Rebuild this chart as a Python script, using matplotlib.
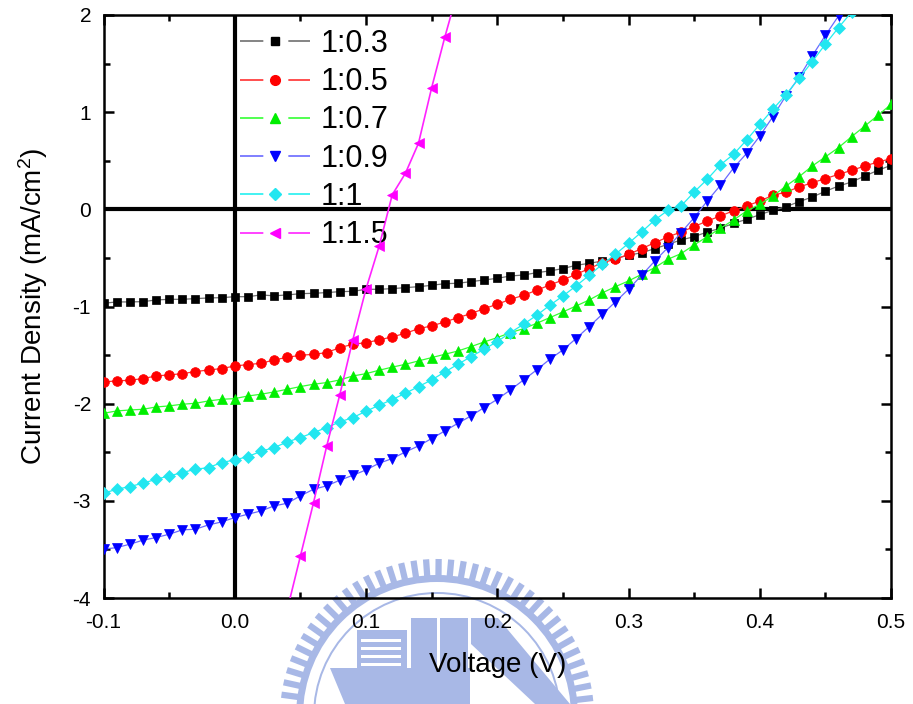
import matplotlib
matplotlib.use('Agg')
import matplotlib.pyplot as plt
from matplotlib.lines import Line2D
from matplotlib.legend_handler import HandlerTuple
from matplotlib.ticker import MultipleLocator, FormatStrFormatter
import matplotlib.patches as mpatches
import numpy as np

# ---- data ----
volt = [round(-0.10 + 0.01 * i, 2) for i in range(61)]

j_03 = [-0.967, -0.953, -0.953, -0.950, -0.933, -0.926, -0.926, -0.919, -0.912, -0.909,
        -0.899, -0.899, -0.881, -0.890, -0.881, -0.868, -0.864, -0.857, -0.847, -0.844,
        -0.823, -0.823, -0.816, -0.806, -0.796, -0.782, -0.765, -0.761, -0.744, -0.727,
        -0.710, -0.686, -0.676, -0.652, -0.634, -0.610, -0.576, -0.556, -0.532, -0.505,
        -0.473, -0.446, -0.405, -0.360, -0.316, -0.281, -0.233, -0.195, -0.144, -0.103,
        -0.055, -0.010, 0.027, 0.079, 0.127, 0.185, 0.240, 0.281, 0.343, 0.401, 0.453]

j_05 = [-1.776, -1.766, -1.759, -1.742, -1.715, -1.704, -1.691, -1.670, -1.653, -1.639,
        -1.612, -1.598, -1.584, -1.550, -1.523, -1.502, -1.492, -1.475, -1.423, -1.389,
        -1.372, -1.344, -1.312, -1.276, -1.228, -1.200, -1.159, -1.115, -1.073, -1.022,
        -0.977, -0.926, -0.885, -0.833, -0.779, -0.727, -0.669, -0.610, -0.549, -0.514,
        -0.463, -0.405, -0.343, -0.285, -0.233, -0.178, -0.120, -0.069, -0.014, 0.034,
        0.086, 0.144, 0.178, 0.230, 0.274, 0.316, 0.360, 0.401, 0.446, 0.487, 0.521]

j_07 = [-2.099, -2.075, -2.065, -2.058, -2.034, -2.023, -2.006, -1.996, -1.972, -1.955,
        -1.948, -1.921, -1.903, -1.879, -1.852, -1.824, -1.800, -1.783, -1.756, -1.715,
        -1.691, -1.656, -1.624, -1.595, -1.560, -1.526, -1.492, -1.458, -1.413, -1.365,
        -1.320, -1.269, -1.228, -1.173, -1.115, -1.056, -0.995, -0.933, -0.860, -0.796,
        -0.737, -0.669, -0.600, -0.514, -0.456, -0.367, -0.281, -0.195, -0.110, -0.017,
        0.051, 0.137, 0.240, 0.336, 0.446, 0.540, 0.635, 0.748, 0.857, 0.967, 1.080]

j_09 = [-3.498, -3.481, -3.447, -3.405, -3.378, -3.344, -3.299, -3.292, -3.248, -3.217,
        -3.172, -3.138, -3.104, -3.052, -3.025, -2.949, -2.881, -2.846, -2.788, -2.737,
        -2.682, -2.613, -2.565, -2.497, -2.435, -2.359, -2.281, -2.202, -2.126, -2.040,
        -1.955, -1.859, -1.756, -1.653, -1.543, -1.447, -1.330, -1.207, -1.080, -0.953,
        -0.823, -0.679, -0.532, -0.394, -0.240, -0.086, 0.086, 0.247, 0.425, 0.576,
        0.754, 0.954, 1.170, 1.360, 1.580, 1.790, 1.990, 2.200, 2.410, 2.620, 2.830]

j_10 = [-2.922, -2.881, -2.853, -2.819, -2.778, -2.744, -2.709, -2.675, -2.658, -2.606,
        -2.579, -2.545, -2.490, -2.452, -2.394, -2.349, -2.298, -2.246, -2.188, -2.143,
        -2.078, -2.016, -1.958, -1.893, -1.824, -1.756, -1.674, -1.595, -1.516, -1.440,
        -1.361, -1.269, -1.183, -1.091, -0.988, -0.892, -0.789, -0.679, -0.566, -0.463,
        -0.350, -0.233, -0.110, -0.010, 0.034, 0.178, 0.309, 0.458, 0.566, 0.713,
        0.874, 1.030, 1.180, 1.350, 1.520, 1.700, 1.870, 2.030, 2.200, 2.370, 2.550]

volt_15 = [0.04, 0.05, 0.06, 0.07, 0.08, 0.09, 0.10, 0.11, 0.12, 0.13, 0.14, 0.15, 0.16, 0.17]
j_15 = [-4.12, -3.57, -3.02, -2.44, -1.91, -1.34, -0.82, -0.38, 0.15, 0.37, 0.68, 1.25, 1.77, 2.25]

labels = ['1:0.3', '1:0.5', '1:0.7', '1:0.9', '1:1', '1:1.5']
marker_cols = ['#000000', '#ff0000', '#00ee00', '#0000ff', '#22e6f0', '#ff00ff']
line_cols = ['#707070', '#ff3030', '#33ff33', '#6a6aff', '#22f0f0', '#ff22ff']
markers = ['s', 'o', '^', 'v', 'D', '<']
msizes = [6, 7, 7.5, 7.5, 6.5, 7.5]

plt.rcParams['font.family'] = ['Liberation Sans', 'DejaVu Sans']
plt.rcParams['axes.unicode_minus'] = False
plt.rcParams['mathtext.default'] = 'regular'

fig = plt.figure(figsize=(9.13, 7.04), dpi=100)
fig.patch.set_facecolor('white')

# faint school logo watermark behind the plot (pixel coords, y measured from bottom)
wm = fig.add_axes([0, 0, 1, 1], zorder=0)
wm.set_xlim(0, 913)
wm.set_ylim(0, 704)
wm.axis('off')
wcol = '#a8b8e6'
cx, cy = 437, -12
for a in np.arange(2, 180, 4.6):
    t = np.deg2rad(a)
    r0, r1 = 140, 157
    wm.plot([cx + r0 * np.cos(t), cx + r1 * np.cos(t)],
            [cy + r0 * np.sin(t), cy + r1 * np.sin(t)], color=wcol, lw=4.5,
            solid_capstyle='butt')
wm.add_patch(mpatches.Wedge((cx, cy), 141, 0, 180, width=7, color=wcol, lw=0))
wm.add_patch(mpatches.Wedge((cx, cy), 124, 0, 180, width=2, color=wcol, lw=0))
wm.add_patch(mpatches.Rectangle((357, 16), 50, 58, color=wcol, lw=0))
for yy in range(22, 70, 8):
    wm.add_patch(mpatches.Rectangle((361, yy), 40, 3, color='white', lw=0))
wm.add_patch(mpatches.Rectangle((411, 16), 26, 70, color=wcol, lw=0))
wm.add_patch(mpatches.Rectangle((440, 16), 28, 70, color=wcol, lw=0))
wm.add_patch(mpatches.Polygon([[471, 86], [498, 86], [570, 0], [535, 0], [471, 60]],
                              closed=True, color=wcol, lw=0))
wm.add_patch(mpatches.Polygon([[330, 36], [470, 36], [470, 0], [345, 0]],
                              closed=True, color=wcol, lw=0))

ax = fig.add_axes([103.5 / 913, 1 - 598 / 704, (891 - 103.5) / 913, (598 - 15) / 704],
                  zorder=1)
ax.patch.set_alpha(0)

ax.axhline(0, color='black', lw=3, zorder=1)
ax.axvline(0, color='black', lw=3, zorder=1)

series = [j_03, j_05, j_07, j_09, j_10]
for i, yv in enumerate(series):
    ax.plot(volt, yv, color=line_cols[i], lw=0.9, marker=markers[i], ms=msizes[i],
            mfc=marker_cols[i], mec=marker_cols[i], mew=0.5, zorder=3 + i)
ax.plot(volt_15, j_15, color=line_cols[5], lw=1.2, marker=markers[5], ms=msizes[5],
        mfc=marker_cols[5], mec=marker_cols[5], mew=0.5, zorder=9)

ax.set_xlim(-0.1, 0.5)
ax.set_ylim(-4, 2)
ax.xaxis.set_major_locator(MultipleLocator(0.1))
ax.xaxis.set_minor_locator(MultipleLocator(0.05))
ax.yaxis.set_major_locator(MultipleLocator(1))
ax.yaxis.set_minor_locator(MultipleLocator(0.5))
ax.xaxis.set_major_formatter(FormatStrFormatter('%.1f'))
ax.tick_params(which='both', direction='in', top=True, right=True, width=1.8)
ax.tick_params(which='major', length=7.5, labelsize=15)
ax.tick_params(which='minor', length=4.5)
ax.tick_params(axis='x', pad=11)
ax.tick_params(axis='y', pad=9)
for s in ax.spines.values():
    s.set_linewidth(1.8)

ax.set_xlabel('Voltage (V)', fontsize=20, labelpad=14)
ax.set_ylabel('Current Density (mA/cm$^2$)', fontsize=20, labelpad=16)

# legend entries drawn as line - marker - line
handles = []
for i in range(6):
    ln = Line2D([], [], color=line_cols[i], lw=1.2, dashes=(14, 15))
    mk = Line2D([], [], ls='none', marker=markers[i], ms=msizes[i],
                mfc=marker_cols[i], mec=marker_cols[i])
    handles.append((ln, mk))
ax.legend(handles, labels, handler_map={tuple: HandlerTuple(ndivide=1)},
          loc='upper left', bbox_to_anchor=(0.1733, 0.976), frameon=False,
          fontsize=22, handlelength=2.3, handletextpad=0.35, labelspacing=0.27,
          borderpad=0, borderaxespad=0)

fig.savefig('out.png', dpi=100)
